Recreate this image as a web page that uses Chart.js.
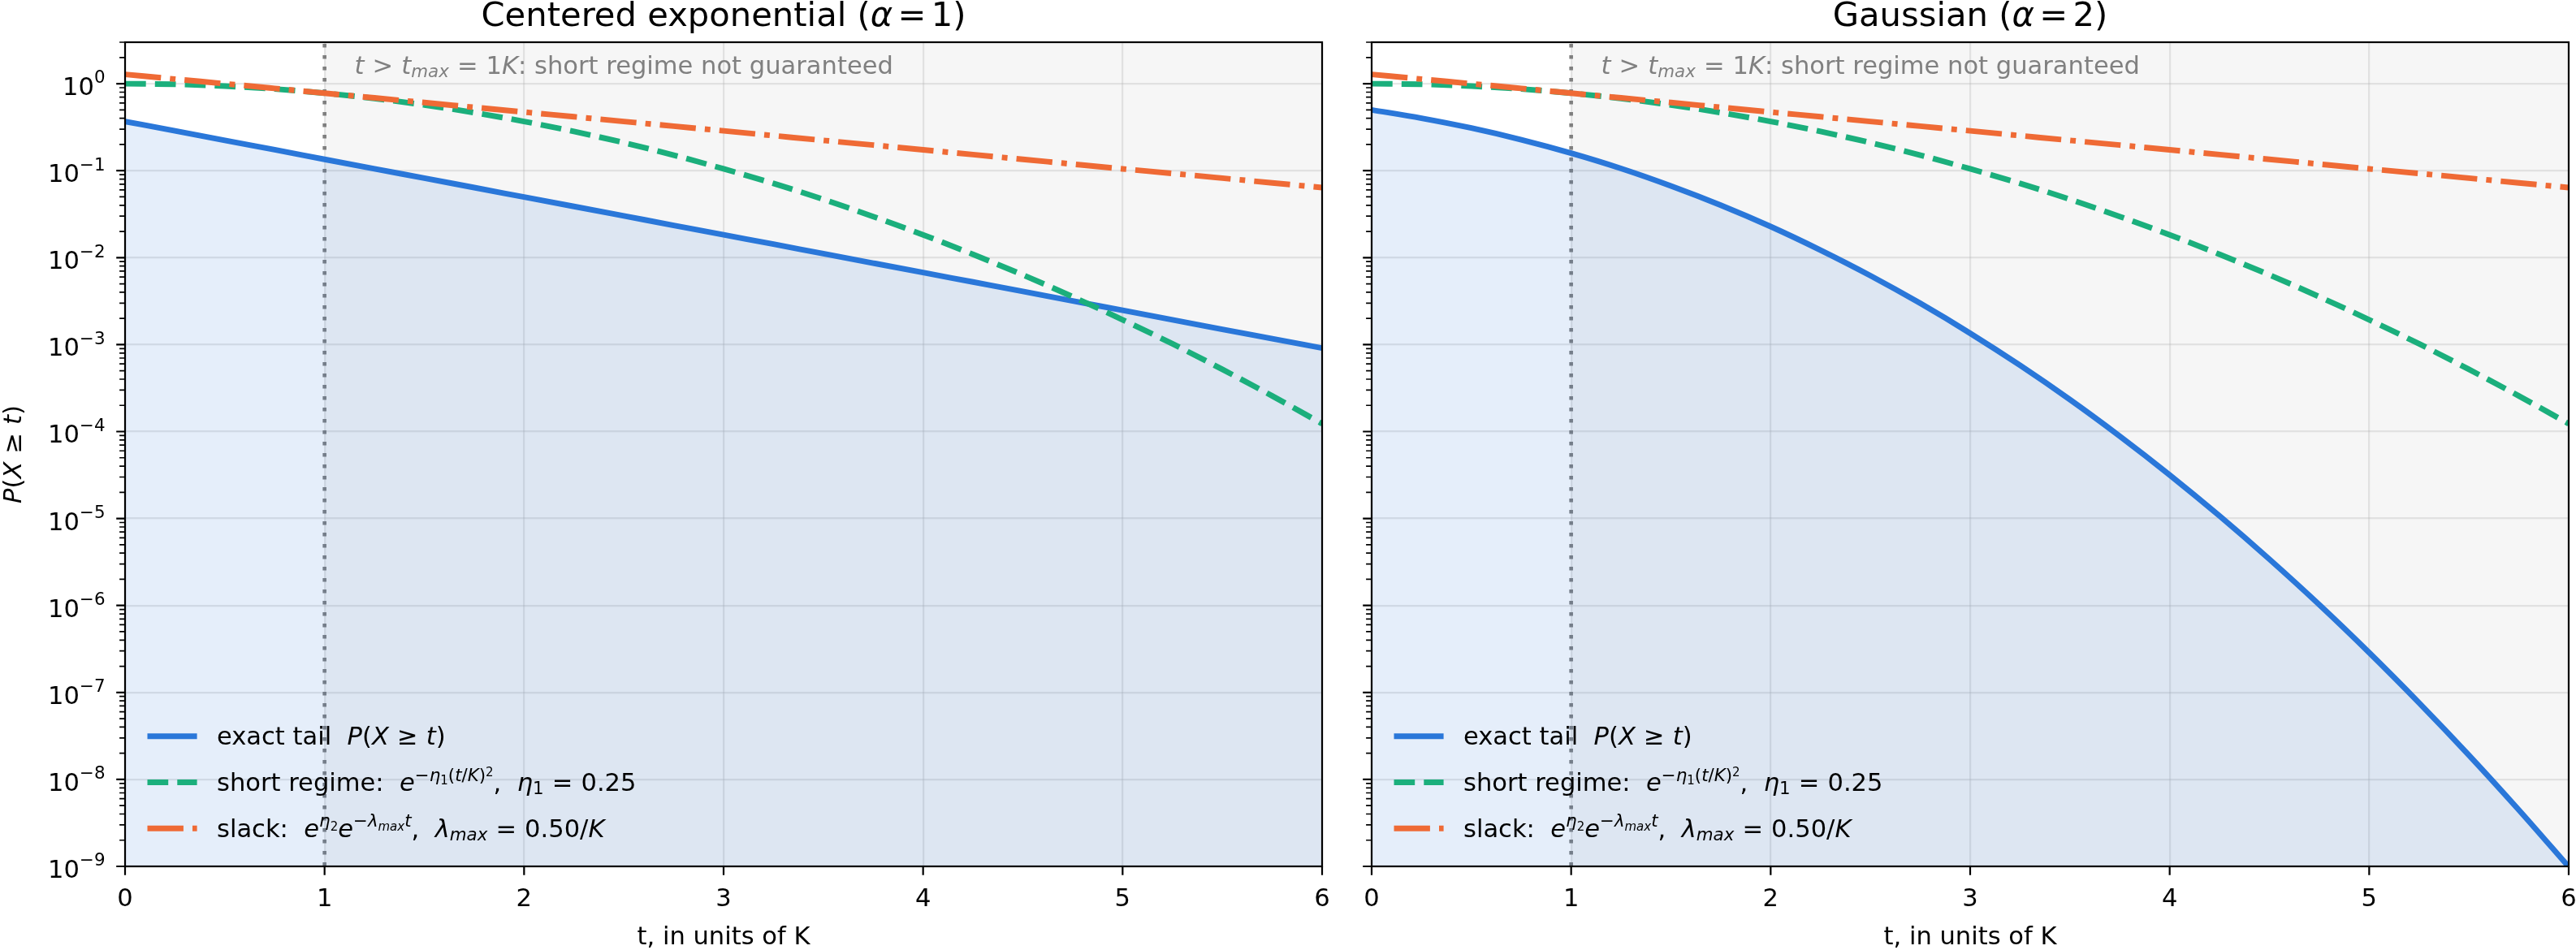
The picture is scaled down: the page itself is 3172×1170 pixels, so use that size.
<!DOCTYPE html>
<html><head><meta charset="utf-8">
<script src="https://cdn.jsdelivr.net/npm/chart.js@4.4.1/dist/chart.umd.min.js"></script>
<style>
html,body{margin:0;padding:0;background:#fff;}
body{width:3172px;height:1170px;position:relative;overflow:hidden;}
canvas{position:absolute;top:0;}
#cL{left:0;} #cR{left:1658px;}
</style></head><body>
<canvas id="cL" width="1658" height="1170"></canvas>
<canvas id="cR" width="1514" height="1170"></canvas>
<script>
// ---------------- data ----------------
const tValues = [0, 0.25, 0.5, 0.75, 1, 1.25, 1.5, 1.75, 2, 2.25, 2.5, 2.75, 3, 3.25, 3.5, 3.75, 4, 4.25, 4.5, 4.75, 5, 5.25, 5.5, 5.75, 6];
const expExact = [0.368, 0.287, 0.223, 0.174, 0.135, 0.105, 0.0821, 0.0639, 0.0498, 0.0388, 0.0302, 0.0235, 0.0183, 0.0143, 0.0111, 0.00865, 0.00674, 0.00525, 0.00409, 0.00318, 0.00248, 0.00193, 0.00150, 0.00117, 0.000912];
const gaussExact = [0.5, 0.401, 0.309, 0.227, 0.159, 0.106, 0.0668, 0.0401, 0.0228, 0.0122, 0.00621, 0.00298, 0.00135, 0.000577, 0.000233, 0.0000884, 0.0000317, 0.0000107, 0.0000034, 0.00000102, 2.87e-7, 7.6e-8, 1.9e-8, 4.46e-9, 9.9e-10];
const shortRegime = [1.0, 0.985, 0.939, 0.869, 0.779, 0.677, 0.570, 0.465, 0.368, 0.282, 0.210, 0.151, 0.105, 0.0713, 0.0468, 0.0297, 0.0183, 0.0109, 0.00633, 0.00355, 0.00193, 0.00102, 0.000519, 0.000257, 0.000123];
const slackBound = [1.28, 1.13, 1.00, 0.883, 0.779, 0.687, 0.607, 0.535, 0.472, 0.417, 0.368, 0.325, 0.287, 0.253, 0.223, 0.197, 0.174, 0.153, 0.135, 0.119, 0.105, 0.0930, 0.0821, 0.0724, 0.0639];
const xTicks = [0, 1, 2, 3, 4, 5, 6];
const yTickValues = [1e-9, 1e-8, 1e-7, 1e-6, 1e-5, 1e-4, 1e-3, 1e-2, 1e-1, 1];
const yTickExponents = ['\u22129', '\u22128', '\u22127', '\u22126', '\u22125', '\u22124', '\u22123', '\u22122', '\u22121', '0'];
const panelTitles = ['Centered exponential', 'Gaussian'];
const panelAlphas = ['1', '2'];
const tMax = 1;
const xMin = 0, xMax = 6, yMin = 1e-9, yMax = 3;

// ---------------- style ----------------
const BLUE = '#2a77d9', GREEN = '#1baf7c', ORANGE = '#ef6a35';
const GRID = 'rgba(176,176,176,0.3)';
const LW = 6.94;
const DASH_SHORT = [25.7, 11.1];
const DASH_SLACK = [44.4, 11.1, 6.9, 11.1];
const F = 30.56, FT = 41.7;

function font(size, italic){ return (italic ? 'italic ' : '') + size.toFixed(2) + 'px "DejaVu Sans"'; }
function richMeasure(ctx, segs, fs){
  let w = 0;
  for (const s of segs){
    if (s.g !== undefined){ w += s.g * fs; continue; }
    ctx.font = font(fs * (s.s || 1), s.i);
    w += ctx.measureText(s.t).width;
  }
  return w;
}
function drawRich(ctx, segs, x, y, fs, align, color){
  const w = richMeasure(ctx, segs, fs);
  let cx = align === 'center' ? x - w / 2 : (align === 'right' ? x - w : x);
  ctx.fillStyle = color; ctx.textBaseline = 'alphabetic'; ctx.textAlign = 'left';
  for (const s of segs){
    if (s.g !== undefined){ cx += s.g * fs; continue; }
    ctx.font = font(fs * (s.s || 1), s.i);
    ctx.fillText(s.t, cx, y + (s.d || 0) * fs);
    cx += ctx.measureText(s.t).width;
  }
  return w;
}
const SUP = -0.41, SUB = 0.14, REL = 0.33, REL_T = 0.15;
const sup = (t, i) => ({t, i, s: 0.7, d: SUP});
const subInSup = (t, i) => ({t, i, s: 0.49, d: SUP + 0.15});
const supInSup = (t, i) => ({t, i, s: 0.49, d: -0.6});
const sub = (t, i) => ({t, i, s: 0.7, d: SUB});

const legendRows = [
  {color: BLUE, dash: [], segs: [{t: 'exact tail  '}, {t: 'P', i: 1}, {t: '('}, {t: 'X', i: 1}, {g: REL}, {t: '\u2265'}, {g: REL}, {t: 't', i: 1}, {t: ')'}]},
  {color: GREEN, dash: DASH_SHORT, segs: [{t: 'short regime:  '}, {t: 'e', i: 1}, sup('\u2212'), sup('\u03b7', 1), subInSup('1'), sup('('), sup('t', 1), sup('/'), sup('K', 1), sup(')'), supInSup('2'), {t: ',  '}, {t: '\u03b7', i: 1}, sub('1'), {g: REL}, {t: '='}, {g: REL}, {t: '0.25'}]},
  {color: ORANGE, dash: DASH_SLACK, segs: [{t: 'slack:  '}, {t: 'e', i: 1}, sup('\u03b7', 1), subInSup('2'), {t: 'e', i: 1}, sup('\u2212'), sup('\u03bb', 1), subInSup('max', 1), sup('t', 1), {t: ',  '}, {t: '\u03bb', i: 1}, sub('max', 1), {g: REL}, {t: '='}, {g: REL}, {t: '0.50/'}, {t: 'K', i: 1}]}
];
const noteSegs = [{t: 't', i: 1}, {g: REL}, {t: '>'}, {g: REL}, {t: 't', i: 1}, sub('max', 1), {g: REL}, {t: '='}, {g: REL}, {t: '1'}, {t: 'K', i: 1}, {t: ': short regime not guaranteed'}];
const noteAt = {t: 1.15, p: 1.31};

const panelPlugin = {
  id: 'panel',
  beforeDraw(chart){
    const {ctx, chartArea: a, scales: {x}} = chart;
    ctx.save();
    ctx.fillStyle = '#fff'; ctx.fillRect(0, 0, chart.width, chart.height);
    const x1 = x.getPixelForValue(tMax), x2 = x.getPixelForValue(xMax);
    ctx.fillStyle = 'rgba(128,128,128,0.07)';
    ctx.fillRect(x1, a.top, x2 - x1, a.bottom - a.top);
    ctx.restore();
  },
  beforeDatasetsDraw(chart){
    const {ctx, chartArea: a, scales: {x}} = chart;
    const px = x.getPixelForValue(tMax);
    ctx.save();
    ctx.strokeStyle = '#7f7f7f'; ctx.lineWidth = 4.6; ctx.setLineDash([4.6, 9.4]);
    ctx.beginPath(); ctx.moveTo(px, a.top + 2); ctx.lineTo(px, a.bottom); ctx.stroke();
    ctx.restore();
  },
  afterDraw(chart, args, o){
    const {ctx, chartArea: a, scales: {x, y}} = chart;
    ctx.save();
    // spines
    ctx.strokeStyle = '#000'; ctx.lineWidth = 2.2; ctx.setLineDash([]);
    ctx.strokeRect(a.left, a.top, a.right - a.left, a.bottom - a.top);
    // major ticks
    ctx.beginPath();
    for (const v of yTickValues){ const py = y.getPixelForValue(v); ctx.moveTo(a.left - 10.8, py); ctx.lineTo(a.left, py); }
    for (const v of xTicks){ const px = x.getPixelForValue(v); ctx.moveTo(px, a.bottom); ctx.lineTo(px, a.bottom + 10.8); }
    ctx.stroke();
    // minor y ticks
    ctx.lineWidth = 1.7; ctx.beginPath();
    for (let d = -9; d <= 0; d++){
      for (let k = 2; k <= 9; k++){
        const v = k * Math.pow(10, d);
        if (v > yMax * 1.0001) break;
        const py = y.getPixelForValue(v);
        ctx.moveTo(a.left - 6.9, py); ctx.lineTo(a.left, py);
      }
    }
    ctx.stroke();
    // y tick labels
    if (o.yLabels){
      yTickValues.forEach((v, i) => {
        const py = y.getPixelForValue(v);
        drawRich(ctx, [{t: '10'}, {t: yTickExponents[i], s: 0.7, d: -0.48}], a.left - 24.5, py + 14, F, 'right', '#000');
      });
    }
    // y axis title
    if (o.yTitle){
      ctx.save();
      ctx.translate(26, (a.top + a.bottom) / 2);
      ctx.rotate(-Math.PI / 2);
      drawRich(ctx, [{t: 'P', i: 1}, {t: '('}, {t: 'X', i: 1}, {g: REL}, {t: '\u2265'}, {g: REL}, {t: 't', i: 1}, {t: ')'}], 0, 0, F, 'center', '#000');
      ctx.restore();
    }
    // x axis title
    drawRich(ctx, [{t: 't, in units of K'}], (a.left + a.right) / 2, 1163, F, 'center', '#000');
    // panel title
    drawRich(ctx, [{t: o.title + ' ('}, {t: '\u03b1', i: 1}, {g: REL_T}, {t: '='}, {g: REL_T}, {t: o.alpha}, {t: ')'}], (a.left + a.right) / 2, 32, FT, 'center', '#000');
    // annotation
    drawRich(ctx, noteSegs, x.getPixelForValue(noteAt.t), y.getPixelForValue(noteAt.p), F, 'left', '#808080');
    // legend
    const rowOffsets = [160.3, 103.5, 46.7];
    legendRows.forEach((r, i) => {
      const ly = a.bottom - rowOffsets[i];
      ctx.strokeStyle = r.color; ctx.lineWidth = LW; ctx.lineCap = 'butt'; ctx.setLineDash(r.dash);
      ctx.beginPath(); ctx.moveTo(a.left + 27.5, ly); ctx.lineTo(a.left + 88.6, ly); ctx.stroke();
      ctx.setLineDash([]);
      drawRich(ctx, r.segs, a.left + 113, ly + 10.7, F, 'left', '#000');
    });
    ctx.restore();
  }
};

function pts(vals){ return tValues.map((t, i) => ({x: t, y: vals[i]})); }

function makeChart(id, exactVals, opts){
  return new Chart(document.getElementById(id), {
    type: 'line',
    data: {datasets: [
      {label: 'exact tail', data: pts(exactVals), borderColor: BLUE, backgroundColor: 'rgba(42,119,217,0.12)', fill: 'start', borderWidth: LW, order: 3, clip: 0},
      {label: 'short regime', data: pts(shortRegime), borderColor: GREEN, borderDash: DASH_SHORT, fill: false, borderWidth: LW, order: 2, clip: 0},
      {label: 'slack', data: pts(slackBound), borderColor: ORANGE, borderDash: DASH_SLACK, fill: false, borderWidth: LW, order: 1, clip: 0}
    ]},
    options: {
      responsive: false, animation: false, devicePixelRatio: 1,
      layout: {padding: {left: 0, right: opts.padRight, top: 52, bottom: 0}},
      elements: {point: {radius: 0}, line: {cubicInterpolationMode: 'monotone', borderCapStyle: 'butt'}},
      plugins: {legend: {display: false}, title: {display: false}, tooltip: {enabled: false}, panel: opts},
      scales: {
        x: {type: 'linear', min: xMin, max: xMax,
            afterBuildTicks(s){ s.ticks = xTicks.map(v => ({value: v})); },
            afterFit(s){ s.height = 103; s.paddingLeft = 0; s.paddingRight = 0; },
            grid: {color: GRID, lineWidth: 2.2, drawTicks: false}, border: {display: false},
            ticks: {font: {family: 'DejaVu Sans', size: 30.56}, color: '#000', padding: 23, maxRotation: 0, autoSkip: false}},
        y: {type: 'logarithmic', min: yMin, max: yMax,
            afterBuildTicks(s){ s.ticks = yTickValues.map(v => ({value: v, major: true})); },
            afterFit(s){ s.width = opts.yWidth; s.paddingTop = 0; s.paddingBottom = 0; },
            grid: {color: GRID, lineWidth: 2.2, drawTicks: false}, border: {display: false},
            ticks: {display: false}}
      }
    },
    plugins: [panelPlugin]
  });
}

makeChart('cL', expExact, {title: panelTitles[0], alpha: panelAlphas[0], yLabels: true, yTitle: true, yWidth: 154, padRight: 30});
makeChart('cR', gaussExact, {title: panelTitles[1], alpha: panelAlphas[1], yLabels: false, yTitle: false, yWidth: 31, padRight: 9});
</script>
</body></html>
